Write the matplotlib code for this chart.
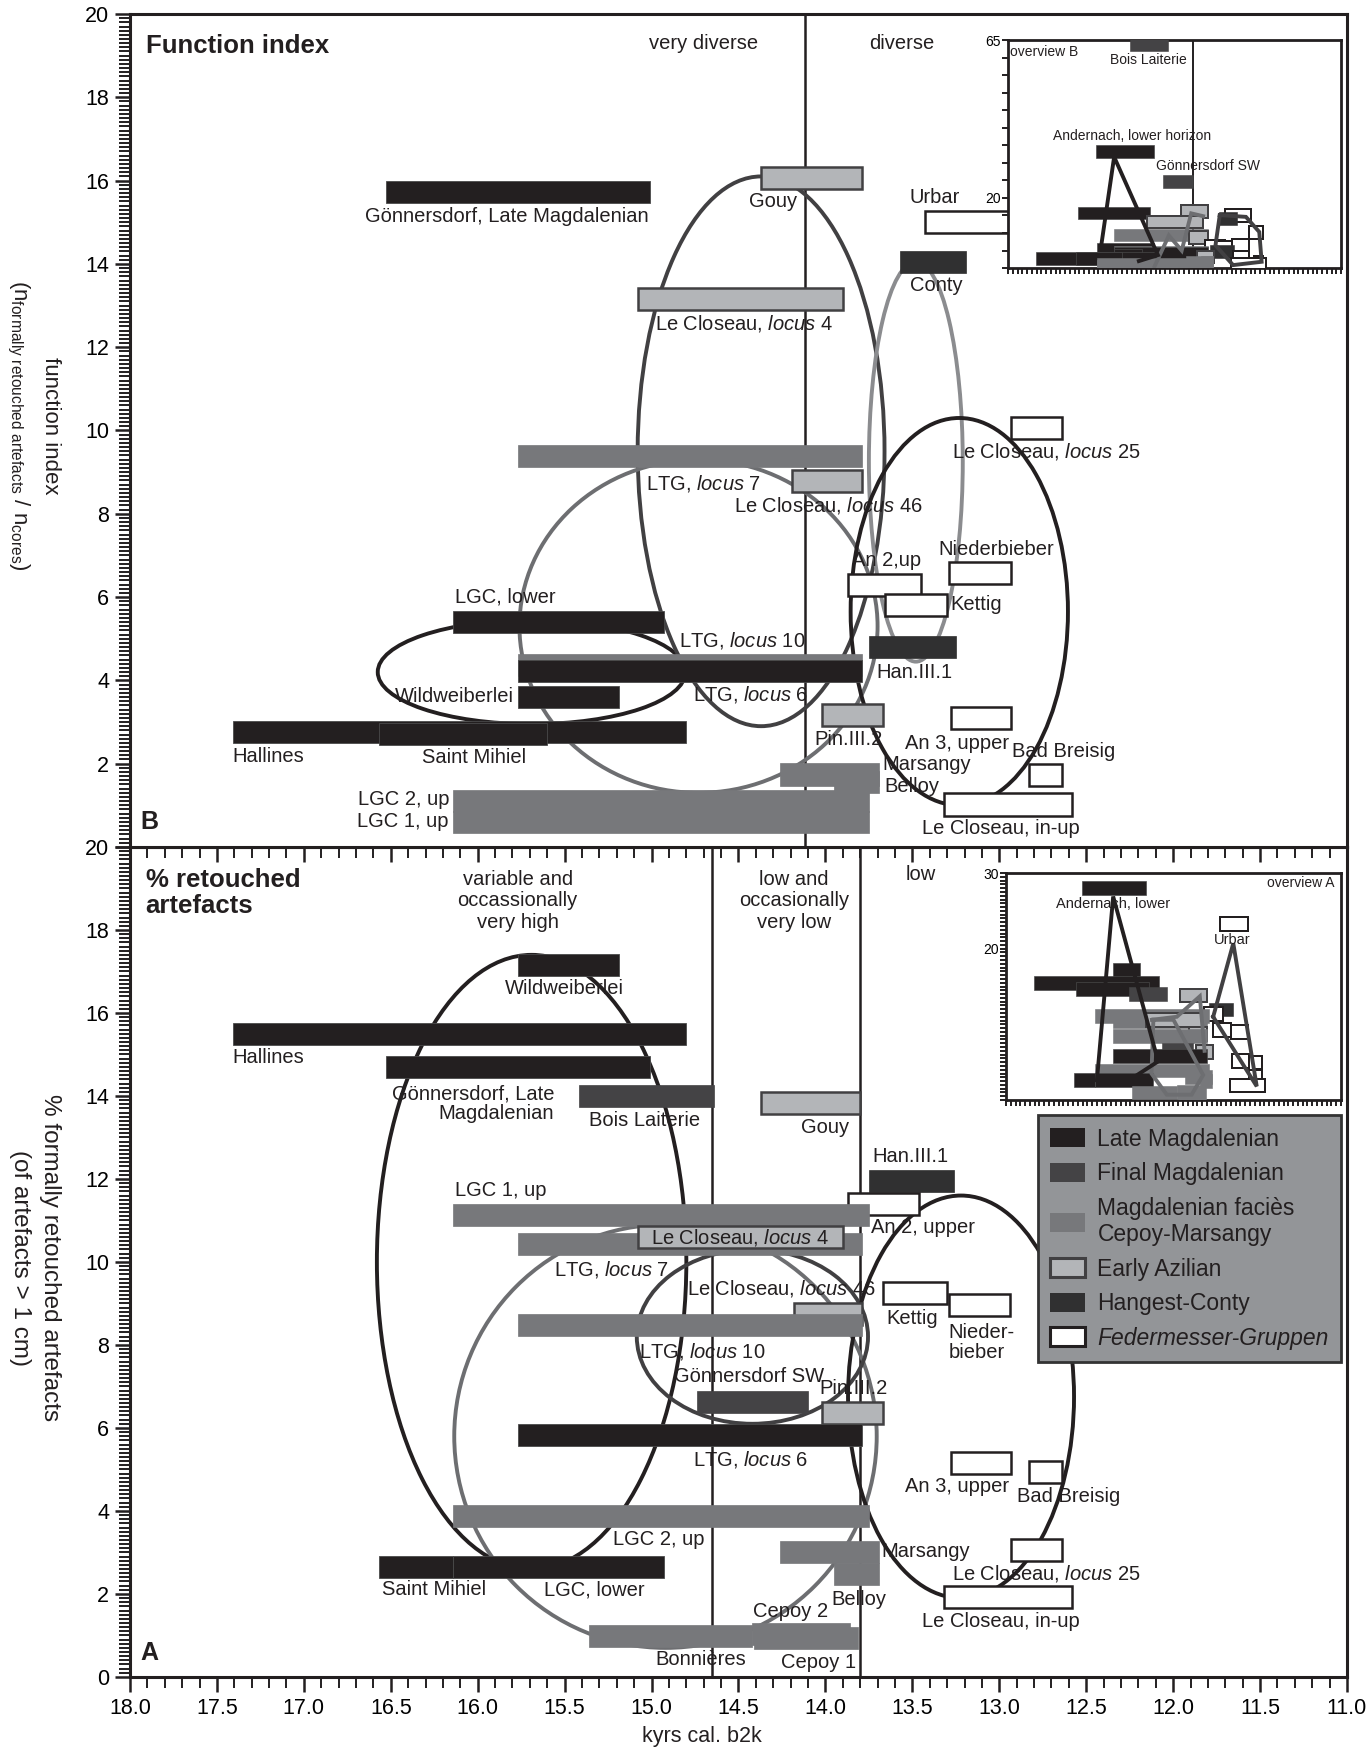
import matplotlib.pyplot as plt
from matplotlib.patches import Ellipse, Patch
from matplotlib.ticker import MultipleLocator, FuncFormatter
import numpy as np

plt.rcParams['font.family'] = ['Liberation Sans', 'DejaVu Sans']
plt.rcParams['mathtext.fontset'] = 'custom'
plt.rcParams['mathtext.rm'] = 'Liberation Sans'
plt.rcParams['mathtext.it'] = 'Liberation Sans:italic'
plt.rcParams['text.color'] = '#231f20'

# techno-complexes
group_codes = ['LM', 'FM', 'CM', 'EA', 'HC', 'FG']
group_names = ['Late Magdalenian', 'Final Magdalenian', 'Magdalenian faciès\nCepoy-Marsangy',
               'Early Azilian', 'Hangest-Conty', 'Federmesser-Gruppen']

# ---- B: function index (n formally retouched artefacts / n cores) ----
sites_b = ['Gönnersdorf, Late Magdalenian', 'Gouy', 'Urbar', 'Conty', 'Le Closeau, locus 4', 'LTG, locus 7',
           'Le Closeau, locus 46', 'Le Closeau, locus 25', 'Niederbieber', 'An 2,up', 'Kettig', 'LGC, lower',
           'LTG, locus 10', 'LTG, locus 6', 'Han.III.1', 'Wildweiberlei', 'Hallines', 'Saint Mihiel', 'Pin.III.2',
           'An 3, upper', 'Bad Breisig', 'Marsangy', 'Belloy', 'Le Closeau, in-up', 'LGC 2, up', 'LGC 1, up',
           'Bois Laiterie', 'Andernach, lower horizon', 'Gönnersdorf SW']
start_b = [16.53, 14.37, 13.43, 13.57, 15.08, 15.77, 14.19, 12.93, 13.29, 13.87, 13.66, 16.14, 15.77, 15.77,
           13.75, 15.77, 17.41, 16.57, 14.02, 13.28, 12.83, 14.26, 13.95, 13.32, 16.14, 16.14, 15.44, 16.15, 14.74]
end_b = [15.01, 13.79, 12.90, 13.19, 13.90, 13.79, 13.79, 12.64, 12.93, 13.45, 13.30, 14.93, 13.79, 13.79,
         13.25, 15.19, 14.80, 15.60, 13.67, 12.93, 12.64, 13.69, 13.69, 12.58, 13.75, 13.75, 14.64, 14.94, 14.11]
value_b = [15.73, 16.07, 15.0, 14.05, 13.16, 9.39, 8.78, 10.06, 6.57, 6.28, 5.80, 5.40, 4.38, 4.22, 4.80,
           3.59, 2.76, 2.71, 3.17, 3.09, 1.72, 1.74, 1.55, 1.02, 1.10, 0.60, 63.6, 33.2, 24.7]
group_b = ['LM', 'EA', 'FG', 'HC', 'EA', 'CM', 'EA', 'FG', 'FG', 'FG', 'FG', 'LM', 'CM', 'LM', 'HC', 'LM', 'LM',
           'LM', 'EA', 'FG', 'FG', 'CM', 'CM', 'FG', 'CM', 'CM', 'FM', 'LM', 'FM']

# ---- A: % formally retouched artefacts (of artefacts > 1 cm) ----
sites_a = ['Wildweiberlei', 'Hallines', 'Gönnersdorf, Late Magdalenian', 'Bois Laiterie', 'Gouy', 'Han.III.1',
           'An 2, upper', 'LGC 1, up', 'LTG, locus 7', 'Le Closeau, locus 4', 'Kettig', 'Niederbieber',
           'Le Closeau, locus 46', 'LTG, locus 10', 'Gönnersdorf SW', 'Pin.III.2', 'LTG, locus 6', 'An 3, upper',
           'Bad Breisig', 'LGC 2, up', 'Marsangy', 'Le Closeau, locus 25', 'Belloy', 'Saint Mihiel', 'LGC, lower',
           'Le Closeau, in-up', 'Bonnières', 'Cepoy 2', 'Cepoy 1', 'Andernach, lower', 'Urbar']
start_a = [15.77, 17.41, 16.53, 15.42, 14.37, 13.75, 13.87, 16.14, 15.77, 15.08, 13.67, 13.29, 14.18, 15.77,
           14.74, 14.02, 15.77, 13.28, 12.83, 16.14, 14.26, 12.93, 13.95, 16.57, 16.14, 13.32, 15.36, 14.42,
           14.41, 16.42, 13.52]
end_a = [15.19, 14.80, 15.01, 14.64, 13.80, 13.26, 13.46, 13.75, 13.79, 13.90, 13.30, 12.94, 13.79, 13.79,
         14.10, 13.67, 13.79, 12.93, 12.64, 13.75, 13.69, 12.64, 13.69, 16.14, 14.93, 12.58, 14.42, 13.86,
         13.81, 15.07, 12.94]
value_a = [17.16, 15.49, 14.69, 14.01, 13.82, 11.95, 11.40, 11.14, 10.43, 10.60, 9.24, 8.96, 8.75, 8.49, 6.63,
           6.35, 5.83, 5.16, 4.94, 3.88, 3.02, 3.05, 2.47, 2.65, 2.65, 1.93, 0.99, 1.03, 0.93, 28.0, 23.3]
group_a = ['LM', 'LM', 'LM', 'FM', 'EA', 'HC', 'FG', 'CM', 'CM', 'EA', 'FG', 'FG', 'EA', 'CM', 'FM', 'EA', 'LM',
           'FG', 'FG', 'CM', 'CM', 'FG', 'CM', 'LM', 'LM', 'FG', 'CM', 'CM', 'CM', 'LM', 'FG']

# hand-drawn groupings (ellipses: centre x, centre y, width, height, tone)
loop_b_x = [15.69, 14.37, 14.73, 13.48, 13.23]
loop_b_y = [4.2, 9.5, 5.3, 9.25, 5.65]
loop_b_w = [1.77, 1.42, 2.06, 0.54, 1.25]
loop_b_h = [2.5, 13.2, 8.0, 9.6, 9.3]
loop_b_tone = ['LM', 'FM', 'CM', 'light', 'LM']

loop_a_x = [15.69, 14.92, 14.42, 13.22]
loop_a_y = [10.0, 5.8, 8.2, 6.75]
loop_a_w = [1.78, 2.43, 1.33, 1.30]
loop_a_h = [14.8, 10.2, 4.2, 9.7]
loop_a_tone = ['LM', 'CM', 'FM', 'LM']

# overview insets: connecting lines
ovb_black = [(16.05, 5.6), (15.77, 31.7), (14.85, 3.7), (15.25, 2.0)]
ovb_gray = [(14.92, 0.5), (14.62, 9.3), (14.35, 5.0), (14.15, 15.6), (13.9, 14.8)]
ovb_dark = [(13.55, 15.1), (13.0, 14.6), (12.72, 10.3), (12.67, 1.8), (13.27, 0.85), (13.64, 6.5), (13.55, 15.1)]
ova_black = [(16.10, 2.6), (15.76, 26.9), (14.82, 5.1), (15.48, 2.4)]
ova_dark = [(13.67, 11.0), (13.25, 20.7), (12.76, 1.8), (13.67, 11.0)]
ova_gray = [(14.92, 10.6), (14.50, 10.6), (13.88, 3.3), (14.12, 0.7), (14.64, 0.7), (14.96, 3.5), (14.92, 10.6)]
ova_gray2 = [(14.95, 10.6), (14.43, 11.0), (13.95, 13.7), (13.85, 6.5)]

# ---- styles ----
fill = {'LM': '#231f20', 'FM': '#444345', 'CM': '#77787b', 'EA': '#b3b5b8', 'HC': '#303031', 'FG': '#ffffff'}
edge = {'LM': '#4a4a4a', 'FM': '#444345', 'CM': '#77787b', 'EA': '#414042', 'HC': '#303031', 'FG': '#231f20'}
edge_w = {'LM': 0.6, 'FM': 0.5, 'CM': 0.5, 'EA': 1.8, 'HC': 0.5, 'FG': 1.8}
tone = {'LM': '#231f20', 'FM': '#414042', 'CM': '#6d6e71', 'light': '#8b8c8f'}

label_b = {
    'Gönnersdorf, Late Magdalenian': (15.83, 15.13, 'center'), 'Gouy': (14.30, 15.49, 'center'),
    'Urbar': (13.37, 15.6, 'center'), 'Conty': (13.36, 13.47, 'center'),
    'Le Closeau, locus 4': (14.47, 12.58, 'center'), 'LTG, locus 7': (14.70, 8.73, 'center'),
    'Le Closeau, locus 46': (13.98, 8.19, 'center'), 'Le Closeau, locus 25': (12.73, 9.49, 'center'),
    'Niederbieber': (13.02, 7.15, 'center'), 'An 2,up': (13.65, 6.87, 'center'), 'Kettig': (13.28, 5.83, 'left'),
    'LGC, lower': (16.13, 6.01, 'left'), 'LTG, locus 10': (14.48, 4.95, 'center'),
    'LTG, locus 6': (14.43, 3.65, 'center'), 'Han.III.1': (13.49, 4.19, 'center'),
    'Wildweiberlei': (15.79, 3.61, 'right'), 'Hallines': (17.41, 2.17, 'left'),
    'Saint Mihiel': (16.02, 2.14, 'center'), 'Pin.III.2': (13.87, 2.59, 'center'),
    'An 3, upper': (13.24, 2.49, 'center'), 'Bad Breisig': (12.63, 2.30, 'center'),
    'Marsangy': (13.67, 1.97, 'left'), 'Belloy': (13.66, 1.46, 'left'),
    'Le Closeau, in-up': (12.99, 0.45, 'center'), 'LGC 2, up': (16.16, 1.15, 'right'),
    'LGC 1, up': (16.17, 0.61, 'right'),
}
label_a = {
    'Wildweiberlei': (15.50, 16.58, 'center'), 'Hallines': (17.41, 14.92, 'left'),
    'Gönnersdorf, Late Magdalenian': (15.56, 13.82, 'right', 'Gönnersdorf, Late\nMagdalenian'),
    'Bois Laiterie': (15.04, 13.42, 'center'), 'Gouy': (14.00, 13.23, 'center'),
    'Han.III.1': (13.51, 12.53, 'center'), 'LGC 1, up': (16.13, 11.73, 'left'),
    'An 2, upper': (13.74, 10.82, 'left'), 'LTG, locus 7': (15.56, 9.81, 'left'),
    'Le Closeau, locus 4': (14.49, 10.60, 'center'), 'Kettig': (13.50, 8.63, 'center'),
    'Niederbieber': (13.29, 8.06, 'left', 'Nieder-\nbieber'), 'Le Closeau, locus 46': (14.25, 9.37, 'center'),
    'LTG, locus 10': (14.71, 7.83, 'center'), 'Gönnersdorf SW': (14.44, 7.23, 'center'),
    'Pin.III.2': (13.84, 6.96, 'center'), 'LTG, locus 6': (14.43, 5.25, 'center'),
    'An 3, upper': (13.24, 4.58, 'center'), 'Bad Breisig': (12.60, 4.34, 'center'),
    'LGC 2, up': (14.96, 3.30, 'center'), 'Marsangy': (13.68, 3.02, 'left'),
    'Le Closeau, locus 25': (12.73, 2.50, 'center'), 'Belloy': (13.81, 1.86, 'center'),
    'Saint Mihiel': (16.25, 2.10, 'center'), 'LGC, lower': (15.33, 2.10, 'center'),
    'Le Closeau, in-up': (12.99, 1.33, 'center'), 'Bonnières': (14.72, 0.41, 'center'),
    'Cepoy 2': (14.20, 1.57, 'center'), 'Cepoy 1': (14.04, 0.34, 'center'),
}
label_ovb = {'Bois Laiterie': (15.05, 59.3), 'Andernach, lower horizon': (15.40, 37.6), 'Gönnersdorf SW': (13.8, 29.1)}
label_ova = {'Andernach, lower': (15.76, 25.9), 'Urbar': (13.27, 21.1)}


def pretty(name):
    return name.replace('locus', r'$\mathit{locus}$')


def draw_bars(ax, start, end, value, group, height, lw_scale=1.0):
    for s, e, v, g in zip(start, end, value, group):
        ax.barh(v, e - s, left=s, height=height, color=fill[g], edgecolor=edge[g],
                linewidth=edge_w[g] * lw_scale, zorder=3)


def draw_labels(ax, labels, size=14.5):
    for name, spec in labels.items():
        txt = spec[3] if len(spec) > 3 else name
        ax.text(spec[0], spec[1], pretty(txt), ha=spec[2], va='center', fontsize=size,
                linespacing=1.05, zorder=4)


def style_main(ax):
    ax.set_xlim(18, 11)
    ax.set_ylim(0, 20)
    ax.xaxis.set_major_locator(MultipleLocator(0.5))
    ax.xaxis.set_minor_locator(MultipleLocator(0.1))
    ax.yaxis.set_major_locator(MultipleLocator(2))
    ax.yaxis.set_minor_locator(MultipleLocator(0.1))
    ax.xaxis.set_major_formatter(FuncFormatter(lambda v, p: f'{v:.1f}'))
    ax.tick_params(which='major', direction='out', length=11, width=1.8, labelsize=15.5, pad=4,
                   color='#231f20')
    ax.tick_params(which='minor', direction='out', length=8, width=1.4, color='#231f20')
    for sp in ax.spines.values():
        sp.set_linewidth(2.2)
        sp.set_color('#231f20')


fig = plt.figure(figsize=(13.7, 17.51), dpi=100)
ax_a = fig.add_axes([0.0949, 0.0423, 0.8883, 0.4740])
ax_b = fig.add_axes([0.0949, 0.5163, 0.8883, 0.4757])

# ---------- panel B ----------
style_main(ax_b)
ax_b.tick_params(labelbottom=False)
ax_b.yaxis.set_major_formatter(FuncFormatter(lambda v, p: '' if v == 0 else f'{v:g}'))
ax_b.axvline(14.12, color='#231f20', lw=1.8, zorder=1)
for cx, cy, w, h, t in zip(loop_b_x, loop_b_y, loop_b_w, loop_b_h, loop_b_tone):
    ax_b.add_patch(Ellipse((cx, cy), w, h, fill=False, edgecolor=tone[t], lw=2.8, zorder=2))
draw_bars(ax_b, start_b, end_b, value_b, group_b, 0.53)
draw_labels(ax_b, label_b)
ax_b.text(17.91, 19.23, 'Function index', fontsize=18.5, fontweight='bold', va='center', ha='left')
ax_b.text(14.70, 19.3, 'very diverse', fontsize=14.5, ha='center', va='center')
ax_b.text(13.56, 19.3, 'diverse', fontsize=14.5, ha='center', va='center')
ax_b.text(17.94, 0.61, 'B', fontsize=18, fontweight='bold', ha='left', va='center')

# ---------- panel A ----------
style_main(ax_a)
ax_a.axvline(14.65, color='#231f20', lw=1.8, zorder=1)
ax_a.axvline(13.80, color='#231f20', lw=1.8, zorder=1)
for cx, cy, w, h, t in zip(loop_a_x, loop_a_y, loop_a_w, loop_a_h, loop_a_tone):
    ax_a.add_patch(Ellipse((cx, cy), w, h, fill=False, edgecolor=tone[t], lw=2.8, zorder=2))
draw_bars(ax_a, start_a, end_a, value_a, group_a, 0.53)
draw_labels(ax_a, label_a)
ax_a.text(17.91, 19.5, '% retouched\nartefacts', fontsize=18.5, fontweight='bold', va='top', ha='left',
          linespacing=1.1)
ax_a.text(15.77, 18.7, 'variable and\noccassionally\nvery high', fontsize=14.5, ha='center', va='center',
          linespacing=1.15)
ax_a.text(14.18, 18.7, 'low and\noccasionally\nvery low', fontsize=14.5, ha='center', va='center',
          linespacing=1.15)
ax_a.text(13.45, 19.33, 'low', fontsize=14.5, ha='center', va='center')
ax_a.text(17.94, 0.57, 'A', fontsize=18, fontweight='bold', ha='left', va='center')

handles = [Patch(facecolor=fill[g], edgecolor=edge[g] if g in ('EA', 'FG') else fill[g],
                 linewidth=2.2 if g in ('EA', 'FG') else 0) for g in group_codes]
leg = ax_a.legend(handles, group_names, loc='upper left', bbox_to_anchor=(0.746, 0.677), fontsize=16.5,
                  frameon=True, facecolor='#939598', edgecolor='#333333', fancybox=False, framealpha=1,
                  borderpad=0.55, handlelength=1.5, handleheight=0.9, handletextpad=0.55, labelspacing=0.5,
                  borderaxespad=0)
leg.get_frame().set_linewidth(2)
leg.set_zorder(10)
leg.get_texts()[5].set_style('italic')


# ---------- overview insets ----------
def style_inset(ax, ymax, ystep, ylabels):
    ax.set_xlim(18, 11)
    ax.set_ylim(0, ymax)
    ax.xaxis.set_major_locator(MultipleLocator(0.1))
    ax.yaxis.set_major_locator(MultipleLocator(ystep))
    ax.xaxis.set_major_formatter(FuncFormatter(lambda v, p: ''))
    ax.yaxis.set_major_formatter(
        FuncFormatter(lambda v, p: f'{v:g}' if any(abs(v - t) < 1e-6 for t in ylabels) else ''))
    ax.tick_params(direction='out', length=4, width=1.4, labelsize=10, pad=1, color='#231f20')
    for sp in ax.spines.values():
        sp.set_linewidth(2)
        sp.set_color('#231f20')


ov_b = fig.add_axes([0.7358, 0.8469, 0.2431, 0.1302])
style_inset(ov_b, 65, 5, (65, 20))
ov_b.axvline(14.12, color='#231f20', lw=1.4, zorder=1)
draw_bars(ov_b, start_b, end_b, value_b, group_b, 3.6, lw_scale=0.8)
for pts, c in [(ovb_gray, tone['CM']), (ovb_dark, tone['FM']), (ovb_black, tone['LM'])]:
    xs, ys = zip(*pts)
    ov_b.plot(xs, ys, color=c, lw=2.8, zorder=3.5, solid_joinstyle='miter')
for name, (x, y) in label_ovb.items():
    ov_b.text(x, y, name, fontsize=10, ha='center', va='center', zorder=5)
ov_b.text(17.96, 61.7, 'overview B', fontsize=10, ha='left', va='center')

ov_a = fig.add_axes([0.7343, 0.3718, 0.2445, 0.1296])
style_inset(ov_a, 30, 0.5, (30, 20))
draw_bars(ov_a, start_a, end_a, value_a, group_a, 1.8, lw_scale=0.8)
for pts, c in [(ova_gray, tone['CM']), (ova_gray2, tone['CM']), (ova_dark, tone['FM']), (ova_black, tone['LM'])]:
    xs, ys = zip(*pts)
    ov_a.plot(xs, ys, color=c, lw=2.8, zorder=3.5, solid_joinstyle='miter')
for name, (x, y) in label_ova.items():
    ov_a.text(x, y, name, fontsize=10.5, ha='center', va='center', zorder=5)
ov_a.text(11.13, 28.7, 'overview A', fontsize=10, ha='right', va='center')

# ---------- axis titles (read top to bottom) ----------
fig.text(50 / 1370, 0.757, 'function index', rotation=270, fontsize=16, ha='center', va='center')
fig.text(18 / 1370, 0.757, r'(n$_{\mathregular{formally\ retouched\ artefacts}}$ / n$_{\mathregular{cores}}$)',
         rotation=270, fontsize=16, ha='center', va='center')
fig.text(50 / 1370, 0.2816, '% formally retouched artefacts', rotation=270, fontsize=17.5, ha='center',
         va='center')
fig.text(20 / 1370, 0.2816, '(of artefacts > 1 cm)', rotation=270, fontsize=17.5, ha='center', va='center')
fig.text(0.512, 0.008, 'kyrs cal. b2k', fontsize=15.5, ha='center', va='center')

fig.savefig('out.png', dpi=100)
